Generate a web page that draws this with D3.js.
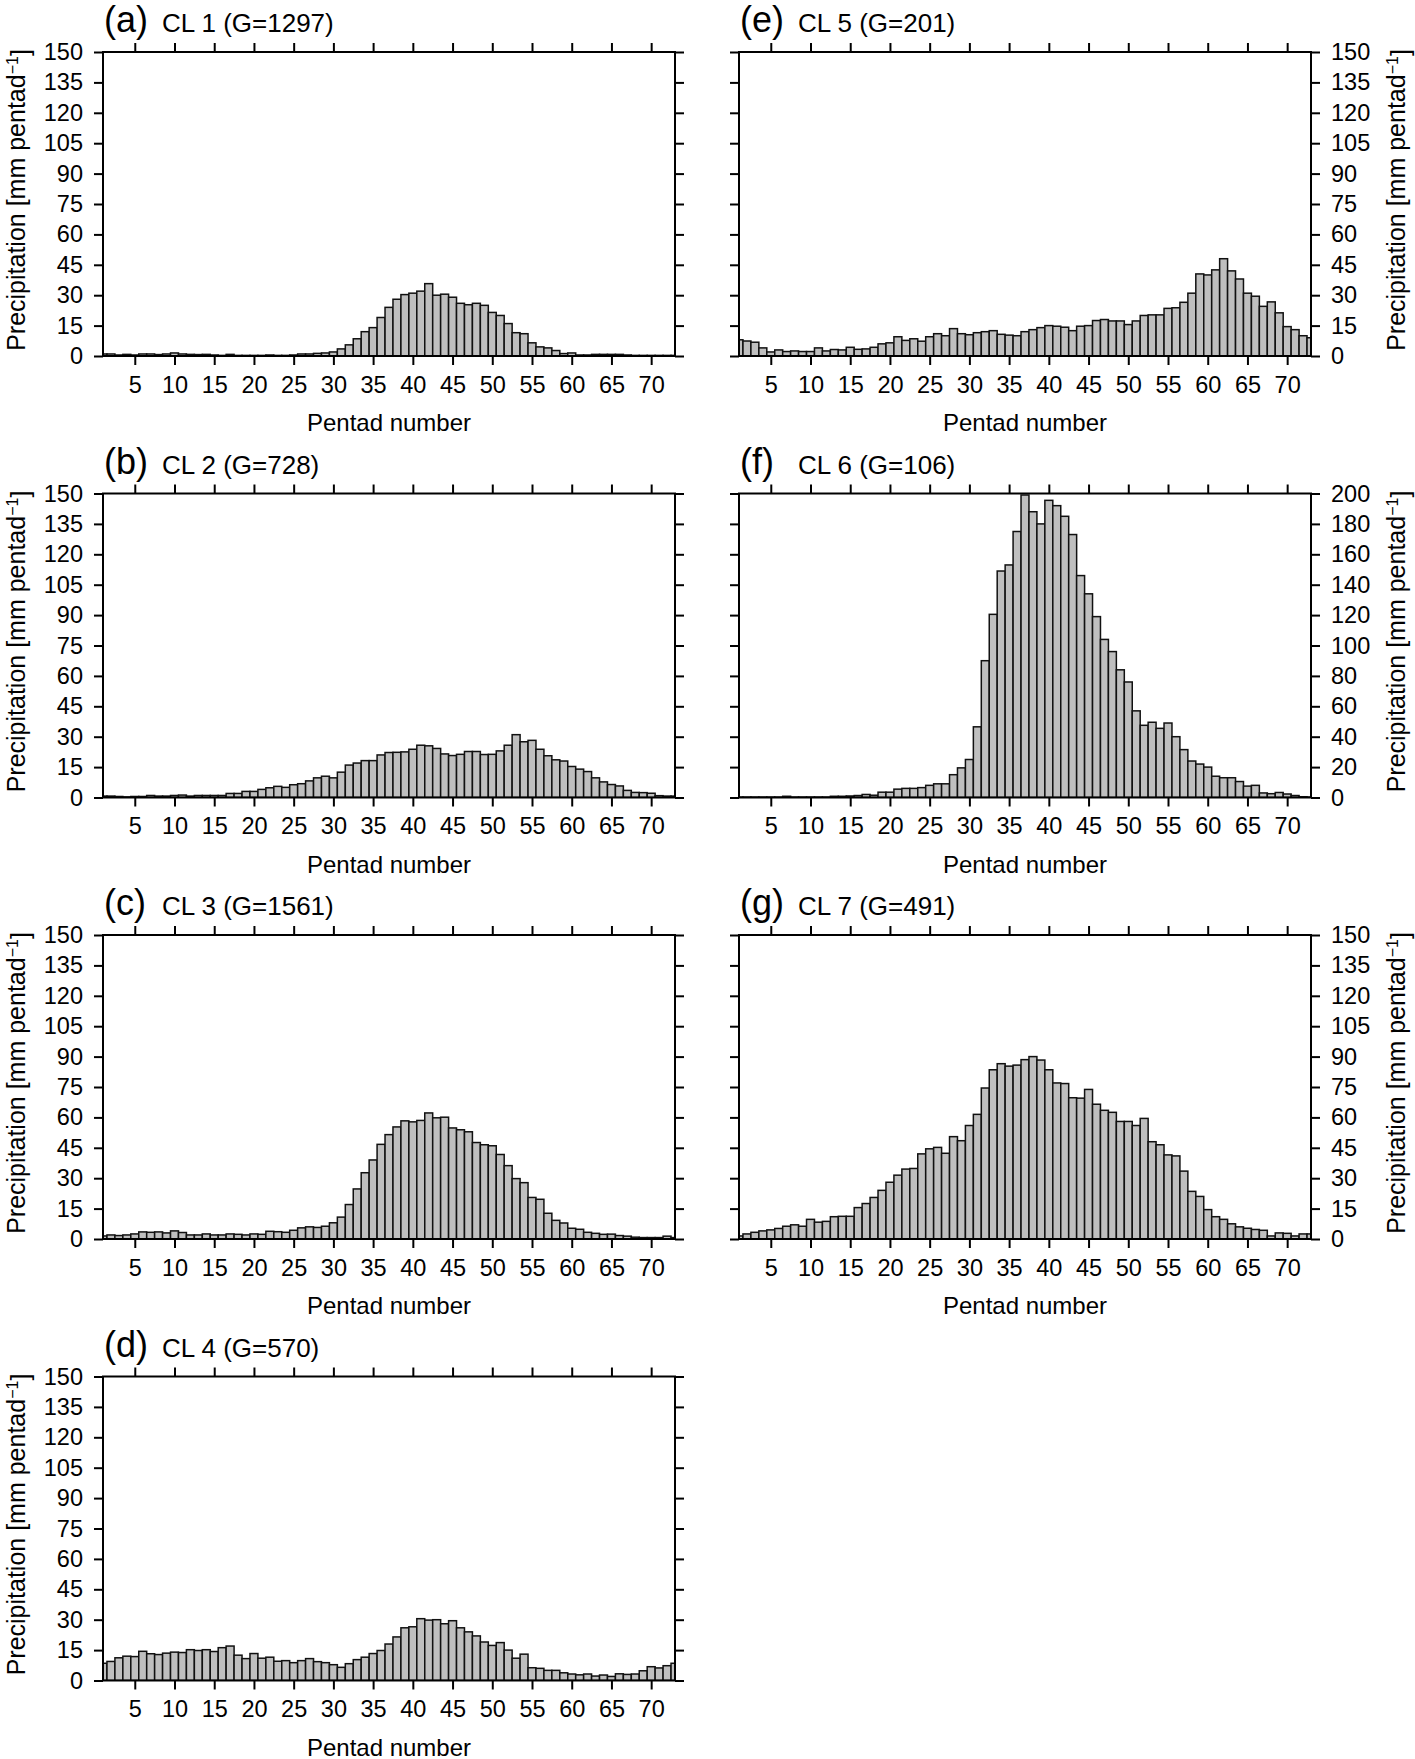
<!DOCTYPE html>
<html>
    <head>
        <title>Pentad precipitation by cluster</title>
        <meta charset="utf-8">
        <style>
            html, body {
                margin: 0px;
                padding: 0px;
                background-color: #fff;
            }

            svg text {
                font-family: "Liberation Sans", Arial, Helvetica, sans-serif;
                fill: #000;
            }

            .bar {
                fill: #bfbfbf;
                stroke: #111;
                stroke-width: 1.5px;
            }

            .frame {
                fill: none;
                stroke: #000;
                stroke-width: 2px;
            }

            .axis .domain {
                stroke: none;
            }

            .axis line {
                stroke: #000;
                stroke-width: 2px;
            }

            .axis text {
                font-size: 23.5px;
            }

            .label {
                font-size: 24px;
            }

            .ylabel {
                font-size: 25px;
            }

            .letter {
                font-size: 36px;
            }

            .name {
                font-size: 26px;
            }
        </style>
        <script src="https://cdn.jsdelivr.net/npm/d3@7"></script>
    </head>
    <body>
        <div id="main"></div>

        <script>
            // pentad 1..73, tick labels every 5
            var pentads = d3.range(1, 74);
            var xTicks = [5, 10, 15, 20, 25, 30, 35, 40, 45, 50, 55, 60, 65, 70];
            var yTicks150 = [0, 15, 30, 45, 60, 75, 90, 105, 120, 135, 150];
            var yTicks200 = [0, 20, 40, 60, 80, 100, 120, 140, 160, 180, 200];

            var letters = ["(a)", "(b)", "(c)", "(d)", "(e)", "(f)", "(g)"];
            var names = ["CL 1 (G=1297)", "CL 2 (G=728)", "CL 3 (G=1561)", "CL 4 (G=570)",
                         "CL 5 (G=201)", "CL 6 (G=106)", "CL 7 (G=491)"];

            var cl1 = [1, 1, 0.5, 0.8, 0.5, 1, 1, 0.7, 1, 1.5,
                       1, 0.8, 0.7, 0.8, 0.5, 0.3, 0.8, 0.3, 0.3, 0.3,
                       0.3, 0.5, 0.3, 0.3, 0.5, 1, 1, 1.3, 1.5, 2,
                       3.5, 5.5, 8.5, 12, 14, 19, 24, 28, 30.3, 31,
                       32, 35.7, 30, 30.5, 29, 26, 25.3, 26, 25, 21.5,
                       20, 16, 11.5, 11, 6.5, 4.5, 4, 2.7, 1.2, 1.5,
                       0.5, 0.5, 0.8, 0.8, 0.8, 0.8, 0.5, 0.3, 0.3, 0.3,
                       0.3, 0.3, 0.3];
            var cl2 = [0.7, 0.7, 0.5, 0.3, 0.5, 0.5, 1, 0.7, 0.7, 1,
                       1.2, 0.7, 1, 1, 1, 1, 2, 2, 3, 3,
                       4, 4.8, 5.5, 5, 6.3, 6.8, 8.2, 9.7, 10.5, 9.7,
                       12.5, 16, 17, 18.2, 18.2, 21, 22.2, 22.3, 22.5, 23.8,
                       25.8, 25.5, 24.2, 21.5, 20.7, 21.3, 22.7, 22.7, 21.2, 21.3,
                       23, 25.8, 31, 27.5, 28.2, 23.8, 20.6, 18.6, 18, 15.3,
                       14, 12.8, 9.7, 7.7, 6.4, 5.7, 3.5, 2.5, 2.4, 2.1,
                       0.9, 0.7, 0.7];
            var cl3 = [1.5, 2, 1.7, 2, 2.5, 3.5, 3.3, 3.5, 3, 4,
                       3.2, 2, 2, 2.5, 2, 2, 2.5, 2.3, 2, 2.5,
                       2.3, 3.8, 3.6, 3.3, 4.3, 5.5, 6, 5.7, 6.3, 8,
                       10.8, 17, 24.7, 32.7, 39, 46.7, 51.5, 55.3, 58.3, 57.8,
                       58.5, 62.2, 59.8, 60.1, 54.8, 53.9, 52.9, 47.6, 46.5, 46,
                       41.7, 36.2, 29.8, 27.8, 20.5, 19.6, 12.7, 9.2, 7.9, 5.3,
                       4.8, 3.3, 2.8, 2.3, 2.4, 1.7, 1.4, 0.9, 0.7, 0.7,
                       0.7, 1.4, 0.7];
            var cl4 = [8.5, 9.4, 11.2, 12, 11.8, 14.4, 13.2, 12.8, 13.5, 14,
                       13.8, 15.2, 14.8, 15.2, 14.3, 16.2, 17, 12.5, 10.8, 13.3,
                       11, 11.5, 9.5, 9.8, 8.8, 9.8, 10.8, 9.3, 8.8, 7.8,
                       6.5, 8.3, 10.3, 11.5, 13.3, 14.8, 18, 21.5, 26, 26.5,
                       30.5, 29.8, 30, 28, 29.5, 26, 24, 22, 19, 17.3,
                       18.7, 15, 11, 13, 6.3, 6, 5, 5, 3.8, 3.2,
                       2.8, 3.2, 2.2, 2.7, 2, 3.3, 3, 3.2, 4.8, 6.8,
                       6.2, 7.3, 8.5];
            var cl5 = [8, 7.4, 6.8, 4, 2, 3, 2.2, 2.5, 2.2, 2.2,
                       4, 2.5, 3.2, 3, 4.3, 3.3, 3.5, 4.3, 6, 6.5,
                       9.5, 7.7, 8.5, 7.3, 9.5, 11, 10, 13.5, 11, 10.5,
                       11.5, 12, 12.5, 10.7, 10.3, 10, 12, 13, 14, 15,
                       14.7, 14.2, 12.5, 14.7, 15, 17.5, 18, 17.3, 17.3, 15.5,
                       17.3, 20, 20.3, 20.3, 23.5, 23.8, 26.5, 31, 40.5, 40,
                       42.5, 48, 42, 38, 31, 29.5, 24.5, 26.7, 21.3, 14.5,
                       13, 10, 9];
            var cl6 = [0.3, 0.3, 0.3, 0.3, 0.3, 0.3, 0.8, 0.3, 0.3, 0.3,
                       0.3, 0.3, 0.8, 0.8, 1, 1.3, 2, 1.5, 3.5, 3.5,
                       5.5, 6, 6, 6.5, 8, 9, 9, 15, 19.5, 25,
                       46.5, 90, 120.5, 149, 153, 175, 199, 188, 180, 195.5,
                       192, 185, 173, 146, 134, 119, 104, 96, 84, 76,
                       57, 47.5, 49.5, 45.5, 49, 40, 31.5, 24, 22, 20,
                       14, 13, 13, 10.5, 7.5, 8, 3, 2.5, 3.3, 2.3,
                       1.3, 0.5, 0.3];
            var cl7 = [1.5, 2.5, 3.3, 4, 4.5, 5.2, 6.3, 7, 6.3, 9.7,
                       8.3, 8.7, 11, 11.2, 11.2, 15.5, 17.5, 20.5, 24, 28,
                       31.5, 34.5, 34.8, 42, 44.5, 45.2, 42.3, 50.5, 48.5, 56,
                       61.5, 74.5, 83.5, 86.5, 85.3, 85.8, 88.5, 90, 88.3, 83.5,
                       77, 76.7, 69.7, 69.5, 73.8, 66.5, 63.5, 62.5, 58, 58,
                       56, 59.5, 48, 46.5, 41.5, 41, 33.5, 23.5, 21, 14.5,
                       11, 9.7, 7.5, 6, 5.3, 4.7, 4.3, 1.5, 3, 2.8,
                       1.5, 2.5, 2.5];

            var series = [cl1, cl2, cl3, cl4, cl5, cl6, cl7];

            var width = 1415;
            var height = 1759;
            var plotW = 572;
            var plotH = 304;
            var colLeft = [103, 739];
            var rowTop = [52, 493.5, 935, 1376.5];
            var tickLen = 9;

            function drawPanel(svg, i) {
                var col = i < 4 ? 0 : 1;
                var row = i < 4 ? i : i - 4;
                var left = colLeft[col];
                var top = rowTop[row];
                var values = series[i];
                var yTicks = (i === 5) ? yTicks200 : yTicks150;

                var x = d3.scaleLinear().domain([1, 73]).range([0, plotW]);
                var y = d3.scaleLinear().domain([0, d3.max(yTicks)]).range([plotH, 0]);

                var g = svg.append("g")
                    .attr("transform", "translate(" + left + "," + top + ")");

                g.append("clipPath")
                    .attr("id", "clip" + i)
                    .append("rect")
                    .attr("width", plotW)
                    .attr("height", plotH);

                g.append("g")
                    .attr("clip-path", "url(#clip" + i + ")")
                    .selectAll("rect")
                    .data(pentads)
                    .enter()
                    .append("rect")
                    .attr("class", "bar")
                    .attr("x", function(p) { return x(p - 0.5); })
                    .attr("width", function(p) { return x(p + 0.5) - x(p - 0.5); })
                    .attr("y", function(p) { return y(values[p - 1]); })
                    .attr("height", function(p) { return plotH - y(values[p - 1]); });

                g.append("g")
                    .attr("class", "axis")
                    .attr("transform", "translate(0," + plotH + ")")
                    .call(d3.axisBottom(x).tickValues(xTicks).tickSize(tickLen).tickSizeOuter(0).tickPadding(11));

                g.append("g")
                    .attr("class", "axis")
                    .call(d3.axisTop(x).tickValues(xTicks).tickSize(tickLen).tickSizeOuter(0).tickFormat(""));

                var leftAxis = d3.axisLeft(y).tickValues(yTicks).tickSize(tickLen).tickSizeOuter(0).tickPadding(11);
                var rightAxis = d3.axisRight(y).tickValues(yTicks).tickSize(tickLen).tickSizeOuter(0).tickPadding(11);
                if (col === 0) {
                    rightAxis.tickFormat("");
                } else {
                    leftAxis.tickFormat("");
                }
                g.append("g").attr("class", "axis").call(leftAxis);
                g.append("g").attr("class", "axis")
                    .attr("transform", "translate(" + plotW + ",0)")
                    .call(rightAxis);

                g.append("rect")
                    .attr("class", "frame")
                    .attr("width", plotW)
                    .attr("height", plotH);

                // panel title
                g.append("text")
                    .attr("class", "letter")
                    .attr("x", 1)
                    .attr("y", -20)
                    .text(letters[i]);
                g.append("text")
                    .attr("class", "name")
                    .attr("x", 59)
                    .attr("y", -20)
                    .text(names[i]);

                g.append("text")
                    .attr("class", "label")
                    .attr("x", plotW / 2)
                    .attr("y", plotH + 75)
                    .style("text-anchor", "middle")
                    .text("Pentad number");

                var lx = (col === 0) ? 25 - left : 1405 - left;
                var ylab = g.append("text")
                    .attr("class", "ylabel")
                    .attr("transform", "translate(" + lx + "," + (plotH / 2 - 4) + ") rotate(-90)")
                    .style("text-anchor", "middle");
                ylab.append("tspan").text("Precipitation [mm pentad");
                ylab.append("tspan").attr("dy", "-0.45em").style("font-size", "16px").text("\u22121");
                ylab.append("tspan").attr("dy", "0.45em").text("]");
            }

            function main() {
                var svg = d3.select("#main")
                    .append("svg")
                    .attr("width", width)
                    .attr("height", height);

                for (var i = 0; i < series.length; i++) {
                    drawPanel(svg, i);
                }
            }

            main();
        </script>
    </body>
</html>
